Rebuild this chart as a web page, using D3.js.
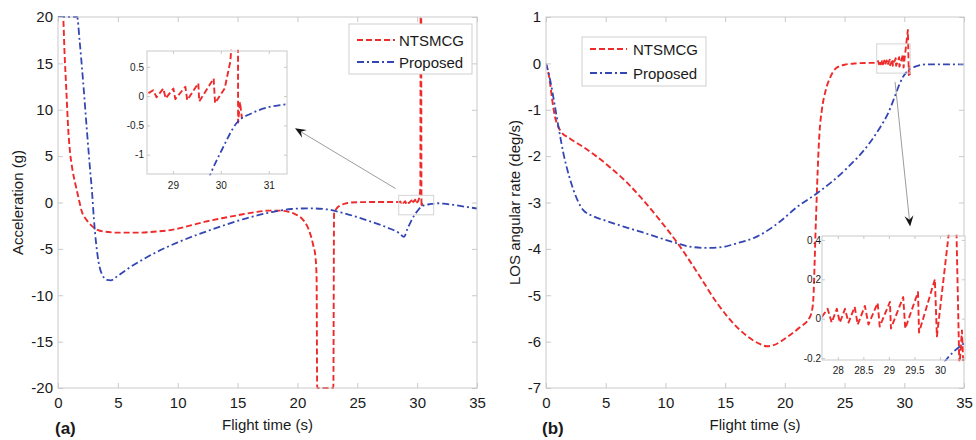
<!DOCTYPE html>
<html><head><meta charset="utf-8">
<script src="https://cdn.jsdelivr.net/npm/d3@7"></script>
<style>
body{margin:0;background:#fff;}
text{font-family:"Liberation Sans",Arial,Helvetica,sans-serif;}
</style>
</head><body>
<svg id="chart" width="976" height="440"></svg>
<script>
// ---------------- DATA ----------------
const seriesNames = ["NTSMCG", "Proposed"];
const timeTicks = [0, 5, 10, 15, 20, 25, 30, 35];
const accTicks = [-20, -15, -10, -5, 0, 5, 10, 15, 20];
const losTicks = [-7, -6, -5, -4, -3, -2, -1, 0, 1];
const accInsetXTicks = [29, 30, 31];
const accInsetYTicks = [-1, -0.5, 0, 0.5];
const losInsetXTicks = [28, 28.5, 29, 29.5, 30];
const losInsetYTicks = [-0.2, 0, 0.2, 0.4];

// (a) Acceleration (g) — NTSMCG
const accNtsmcgT = [0,0.42,0.55,0.7,0.85,1.0,1.2,1.45,1.7,1.97,2.4,2.8,3.3,3.93,5,6.7,8,9.5,11,12.3,13.7,15.1,16.4,17.6,18.5,19.2,19.8,20.35,20.8,21.05,21.3,21.5,21.6,21.65,23.0,23.06,23.3,23.7,24.2,25,26.5,28,
  28.47,28.59,28.66,28.80,28.85,29.01,29.05,29.26,29.30,29.53,29.55,29.85,29.88,30.08,30.2,30.27,30.29,30.34,30.36,30.40,30.44];
const accNtsmcgV = [20,20,16,12,8,5.5,3.6,2.0,0.6,-0.9,-1.9,-2.5,-2.95,-3.15,-3.25,-3.25,-3.15,-2.95,-2.5,-2.07,-1.7,-1.35,-1.05,-0.88,-0.88,-0.99,-1.25,-1.7,-2.5,-3.3,-4.5,-5.8,-8,-20,-20,-1.2,-0.6,-0.25,-0.05,0.03,0.05,0.05,
  0.04,0.1,-0.02,0.13,-0.04,0.13,-0.05,0.16,-0.07,0.22,-0.09,0.30,-0.12,0.13,0.6,1.5,20,20,-0.45,-0.1,-0.38];
// (a) Acceleration (g) — Proposed
const accProposedT = [0,1.6,1.8,2.1,2.4,2.65,2.85,3.0,3.2,3.4,3.7,4.1,4.4,5.0,6,8,10,12,14,16,18,19.5,21,22.5,24,26,27.5,28.5,28.9,29.2,29.5,29.78,30.02,30.33,30.65,30.99,31.34,31.7,32.2,33,34,35];
const accProposedV = [20,20,17.5,13,8,4,1,-1.8,-4.6,-6.5,-7.8,-8.35,-8.4,-7.9,-7.0,-5.5,-4.3,-3.3,-2.4,-1.6,-1.0,-0.7,-0.63,-0.75,-1.2,-2.0,-2.7,-3.3,-3.7,-2.8,-2.0,-1.34,-0.92,-0.46,-0.29,-0.19,-0.14,-0.08,-0.12,-0.25,-0.45,-0.65];

// (b) LOS angular rate (deg/s) — NTSMCG
const losNtsmcgT = [0,0.3,0.5,0.75,1.0,1.2,2,3.1,4.2,5.4,6.7,7.9,9.5,11,12.7,14.3,16.2,17.9,18.5,19,20.2,21.2,22.1,22.35,22.6,22.75,22.9,23.1,23.4,23.8,24.3,25,26,27,27.69,
  27.8,27.88,27.98,28.04,28.14,28.21,28.33,28.39,28.53,28.6,28.78,28.82,29.02,29.04,29.28,29.32,29.57,29.59,29.9,29.94,30.3,30.38,30.43,30.46];
const losNtsmcgV = [0,-0.35,-0.75,-1.15,-1.35,-1.45,-1.62,-1.8,-2.0,-2.25,-2.55,-2.88,-3.37,-3.87,-4.52,-5.16,-5.74,-6.05,-6.1,-6.08,-5.9,-5.7,-5.47,-5.2,-3.4,-2.3,-1.5,-1.0,-0.6,-0.3,-0.1,-0.03,0.0,0.01,0.01,
  0.05,-0.02,0.05,-0.02,0.05,-0.02,0.06,-0.03,0.065,-0.03,0.08,-0.04,0.085,-0.05,0.11,-0.05,0.135,-0.07,0.2,-0.09,0.72,-0.25,-0.06,-0.25];
// (b) LOS angular rate (deg/s) — Proposed
const losProposedT = [0,0.3,0.75,1.1,1.45,1.9,2.3,3.1,4,5.1,6.5,7.9,10.6,12,13.5,15,15.7,17.7,19.6,21,22.7,25.2,27,28,28.6,29.2,29.6,29.9,30.15,30.5,30.9,31.5,32,33.5,35];
const losProposedV = [0,-0.3,-0.93,-1.45,-1.93,-2.4,-2.73,-3.16,-3.3,-3.4,-3.52,-3.63,-3.85,-3.95,-3.98,-3.95,-3.9,-3.73,-3.41,-3.1,-2.8,-2.26,-1.75,-1.37,-1.1,-0.72,-0.45,-0.29,-0.2,-0.12,-0.07,-0.03,-0.02,-0.02,-0.02];

// ---------------- DRAWING ----------------
const svg = d3.select("#chart");
svg.append("rect").attr("width", 976).attr("height", 440).attr("fill", "#fff");

const FRAME = "#c9c9c9", TXT = "#1a1a1a";
const RED = "#ee2a2a", BLUE = "#3346b4";
const styles = [
  {color: RED, dash: "6,3", width: 1.9},
  {color: BLUE, dash: "7,3,2,3", width: 1.8}
];
const zip = (t, v) => t.map((d, i) => [d, v[i]]);
const fmt = d => String(d);
let clipId = 0;

function drawLines(g, x, y, series, sharpFrom) {
  const id = "clip" + (clipId++);
  const [xa, xb] = x.range(), [ya, yb] = y.range();
  const m = 1.2;
  g.append("clipPath").attr("id", id).append("rect")
    .attr("x", Math.min(xa, xb)).attr("y", Math.min(ya, yb) - m)
    .attr("width", Math.abs(xb - xa)).attr("height", Math.abs(yb - ya) + 2 * m);
  const smooth = d3.line().x(d => x(d[0])).y(d => y(d[1])).curve(d3.curveMonotoneX);
  const sharp = d3.line().x(d => x(d[0])).y(d => y(d[1])).curve(d3.curveLinear);
  const lg = g.append("g").attr("clip-path", `url(#${id})`);
  series.forEach((s, i) => {
    let d;
    const k = s.findIndex(p => p[0] >= sharpFrom[i]);
    if (k > 0) {
      const a = smooth(s.slice(0, k + 1));
      const b = sharp(s.slice(k)).replace(/^M[^L]*/, "");
      d = a + b;
    } else {
      d = smooth(s);
    }
    lg.append("path").attr("d", d).attr("fill", "none")
      .attr("stroke", styles[i].color).attr("stroke-width", styles[i].width)
      .attr("stroke-dasharray", styles[i].dash).attr("stroke-linejoin", "round");
  });
}

function frameAxes(g, x, y, xt, yt, o) {
  const [x0, x1] = x.range(), [y1, y0] = y.range();
  const tick = o.tick, fs = o.fs, padX = o.padX, padY = o.padY;
  const ax = [
    [d3.axisBottom(x).tickValues(xt).tickFormat(fmt).tickSize(-tick).tickSizeOuter(0).tickPadding(padX), `translate(0,${y1})`],
    [d3.axisTop(x).tickValues(xt).tickFormat("").tickSize(-tick).tickSizeOuter(0), `translate(0,${y0})`],
    [d3.axisLeft(y).tickValues(yt).tickFormat(fmt).tickSize(-tick).tickSizeOuter(0).tickPadding(padY), `translate(${x0},0)`],
    [d3.axisRight(y).tickValues(yt).tickFormat("").tickSize(-tick).tickSizeOuter(0), `translate(${x1},0)`]
  ];
  ax.forEach(([a, tr]) => {
    const ag = g.append("g").attr("transform", tr).call(a);
    ag.select(".domain").remove();
    ag.selectAll(".tick line").attr("stroke", FRAME).attr("stroke-width", 1);
    ag.selectAll(".tick text").attr("fill", TXT).style("font-size", fs + "px")
      .style("font-family", '"Liberation Sans",Arial,sans-serif');
  });
  g.append("rect").attr("x", x0).attr("y", y0).attr("width", x1 - x0).attr("height", y1 - y0)
    .attr("fill", "none").attr("stroke", FRAME).attr("stroke-width", 1);
}

function arrow(g, x1, y1, x2, y2) {
  const a = Math.atan2(y2 - y1, x2 - x1), L = 11, W = 4.5;
  const c = Math.cos(a), s = Math.sin(a), px = -s, py = c;
  const bx = x2 - L * c, by = y2 - L * s, nx = x2 - 0.62 * L * c, ny = y2 - 0.62 * L * s;
  g.append("line").attr("x1", x1).attr("y1", y1).attr("x2", nx).attr("y2", ny)
    .attr("stroke", "#9c9c9c").attr("stroke-width", 1);
  g.append("path").attr("d", `M${x2},${y2}L${bx + W * px},${by + W * py}L${nx},${ny}L${bx - W * px},${by - W * py}Z`)
    .attr("fill", "#151515");
}

function panel(o) {
  const g = svg.append("g");
  const x = d3.scaleLinear().domain([0, 35]).range([o.x0, o.x1]);
  const y = d3.scaleLinear().domain(o.yDom).range([o.y1, o.y0]);
  drawLines(g, x, y, o.series, o.sharpFrom);
  frameAxes(g, x, y, timeTicks, o.yTicks, {tick: 5, fs: 15, padX: 9, padY: 5});

  // zoom rectangle + arrow
  const ins = o.inset;
  g.append("rect").attr("x", x(ins.xDom[0])).attr("y", y(ins.yDom[1]))
    .attr("width", x(ins.xDom[1]) - x(ins.xDom[0])).attr("height", y(ins.yDom[0]) - y(ins.yDom[1]))
    .attr("fill", "none").attr("stroke", "#d4d4d4").attr("stroke-width", 1);
  arrow(g, x(o.arrow[0]), y(o.arrow[1]), x(o.arrow[2]), y(o.arrow[3]));

  // inset
  const ix = d3.scaleLinear().domain(ins.xDom).range([ins.x0, ins.x1]);
  const iy = d3.scaleLinear().domain(ins.yDom).range([ins.y1, ins.y0]);
  g.append("rect").attr("x", ins.x0).attr("y", ins.y0).attr("width", ins.x1 - ins.x0)
    .attr("height", ins.y1 - ins.y0).attr("fill", "#fff");
  drawLines(g, ix, iy, o.series, o.sharpFrom);
  frameAxes(g, ix, iy, ins.xTicks, ins.yTicks, {tick: 3, fs: 10, padX: ins.padX, padY: ins.padY});

  // legend
  const L = o.legend;
  g.append("rect").attr("x", L.x0).attr("y", L.y0).attr("width", L.x1 - L.x0).attr("height", L.y1 - L.y0)
    .attr("fill", "#fff").attr("stroke", "#cfcfcf").attr("stroke-width", 1);
  seriesNames.forEach((n, i) => {
    const cy = L.rows[i];
    g.append("line").attr("x1", L.lx0).attr("x2", L.lx1).attr("y1", cy).attr("y2", cy)
      .attr("stroke", styles[i].color).attr("stroke-width", styles[i].width).attr("stroke-dasharray", styles[i].dash);
    g.append("text").attr("x", L.tx).attr("y", cy + 5.5).attr("fill", TXT).style("font-size", "15px").text(n);
  });

  // titles
  g.append("text").attr("x", (o.x0 + o.x1) / 2).attr("y", 430).attr("text-anchor", "middle")
    .attr("fill", TXT).style("font-size", "15px").text("Flight time (s)");
  g.append("text").attr("transform", `translate(${o.ylabX},${(o.y0 + o.y1) / 2}) rotate(-90)`)
    .attr("text-anchor", "middle").attr("fill", TXT).style("font-size", "15px").text(o.ylabel);
  g.append("text").attr("x", o.tagX).attr("y", 434).attr("fill", TXT)
    .style("font-size", "17px").style("font-weight", "bold").text(o.tag);
}

panel({
  x0: 58, x1: 477, y0: 17, y1: 388, yDom: [-20, 20], yTicks: accTicks,
  series: [zip(accNtsmcgT, accNtsmcgV), zip(accProposedT, accProposedV)],
  sharpFrom: [28.4, 99],
  inset: {x0: 147, x1: 287, y0: 51, y1: 174, xDom: [28.46, 31.38], yDom: [-1.33, 0.77],
          xTicks: accInsetXTicks, yTicks: accInsetYTicks, padX: 8, padY: 3},
  arrow: [28.2, 1.5, 19.8, 8.0],
  legend: {x0: 349, x1: 472, y0: 24, y1: 74, rows: [40, 62], lx0: 357, lx1: 395, tx: 399},
  ylabel: "Acceleration (g)", ylabX: 23, tag: "(a)", tagX: 55
});

panel({
  x0: 546, x1: 964, y0: 17, y1: 388, yDom: [-7, 1], yTicks: losTicks,
  series: [zip(losNtsmcgT, losNtsmcgV), zip(losProposedT, losProposedV)],
  sharpFrom: [27.69, 99],
  inset: {x0: 822, x1: 965, y0: 236, y1: 360, xDom: [27.69, 30.49], yDom: [-0.21, 0.42],
          xTicks: losInsetXTicks, yTicks: losInsetYTicks, padX: 7, padY: 1},
  arrow: [29.23, -0.4, 30.49, -3.52],
  legend: {x0: 582, x1: 706, y0: 37, y1: 86, rows: [49, 73], lx0: 590, lx1: 627, tx: 633},
  ylabel: "LOS angular rate (deg/s)", ylabX: 520, tag: "(b)", tagX: 542
});
</script>
</body></html>
